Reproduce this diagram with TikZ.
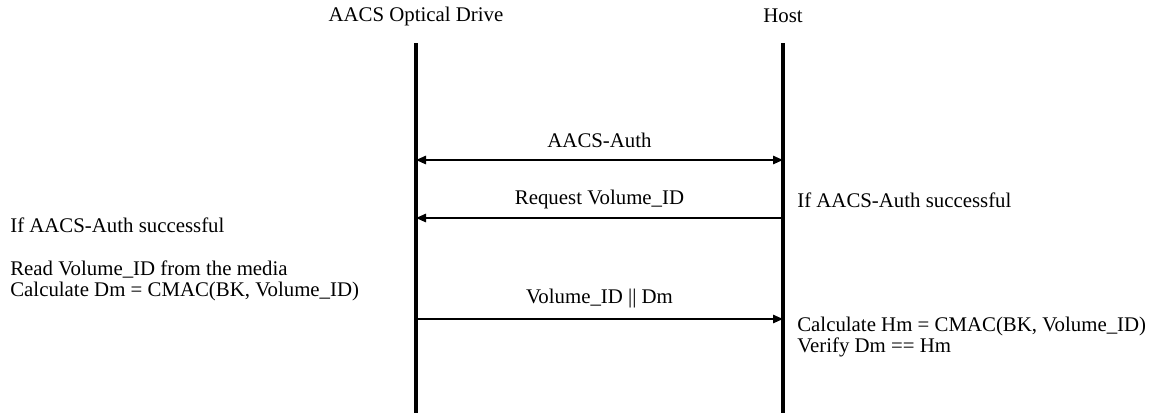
\documentclass[tikz,border=0pt]{standalone}
\usepackage{fontspec}
\setmainfont{Liberation Serif}
\usetikzlibrary{arrows.meta}

\begin{document}
\begin{tikzpicture}[
    x=0.6pt, y=-0.6pt,
    party/.style={inner sep=0pt, font=\fontsize{12.5}{15}\selectfont},
    note/.style={anchor=west, align=left, inner sep=0pt, font=\fontsize{12.5}{12.5}\selectfont},
    msg/.style={inner sep=0pt, font=\fontsize{12.5}{15}\selectfont},
    lifeline/.style={line width=2.8pt},
    arrow/.style={-{Triangle[length=6pt, width=5pt]}, line width=1.1pt}]

\useasboundingbox (0,0) rectangle (1155,413);

% Parties
\node[party] (drive) at (416,16) {AACS Optical Drive};
\node[party] (host) at (783,16) {Host};

% Lifelines
\coordinate (dtop) at (416,43);
\coordinate (dbot) at (416,413);
\coordinate (htop) at (783,43);
\coordinate (hbot) at (783,413);
\draw[lifeline] (dtop) -- (dbot);
\draw[lifeline] (htop) -- (hbot);

% Message ends on the lifelines
\coordinate (d1) at (416,160);
\coordinate (h1) at (783,160);
\coordinate (d2) at (416,218);
\coordinate (h2) at (783,218);
\coordinate (d3) at (416,319);
\coordinate (h3) at (783,319);

% Messages
\draw[arrow, {Triangle[length=6pt, width=5pt]}-{Triangle[length=6pt, width=5pt]}] (d1) -- (h1);
\draw[arrow] (h2) -- (d2);
\draw[arrow] (d3) -- (h3);
\node[msg] (auth) at (599.5,140) {AACS-Auth};
\node[msg] (req) at (599.5,199) {Request Volume\_ID};
\node[msg] (resp) at (599.5,299) {Volume\_ID || Dm};

% Notes at the drive
\node[note] (dok) at (10,225) {If AACS-Auth successful};
\node[note] (dcalc) at (10,281) {Read Volume\_ID from the media\\Calculate Dm = CMAC(BK, Volume\_ID)};

% Notes at the host
\node[note] (hok) at (797,200) {If AACS-Auth successful};
\node[note] (hcalc) at (797,337) {Calculate Hm = CMAC(BK, Volume\_ID)\\Verify Dm == Hm};

\end{tikzpicture}
\end{document}
